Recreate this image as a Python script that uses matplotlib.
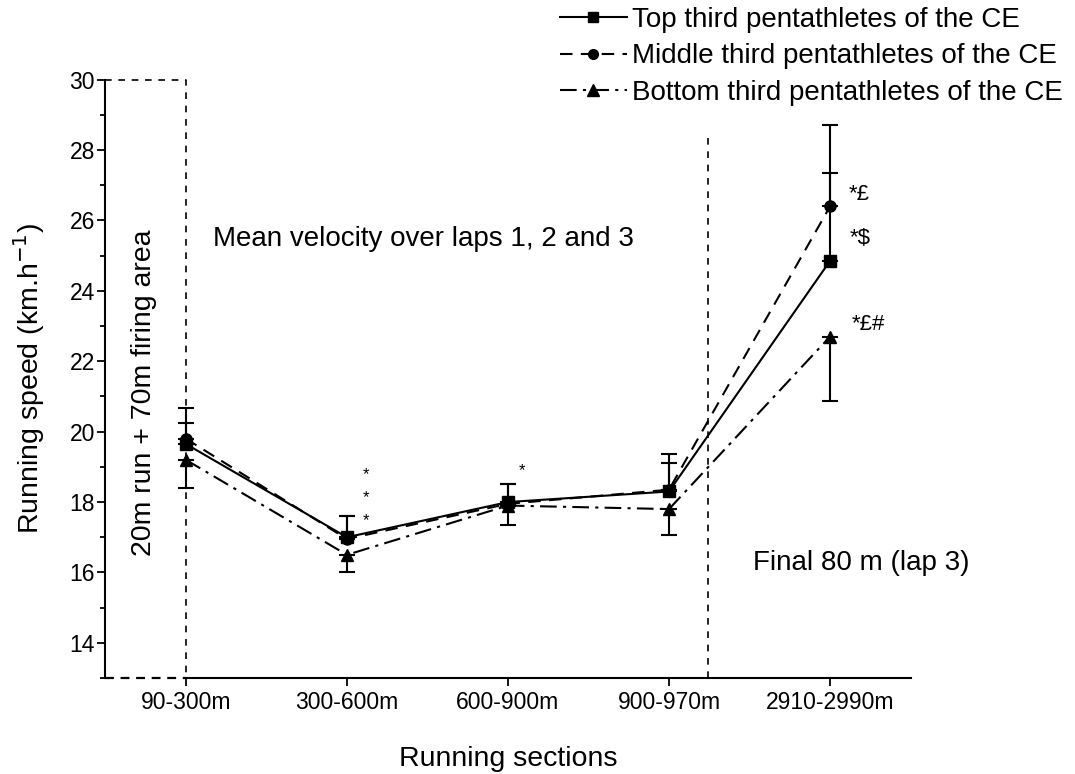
import matplotlib.pyplot as plt
from matplotlib.lines import Line2D
from matplotlib.ticker import MultipleLocator

plt.rcParams['font.family'] = ['Liberation Sans', 'DejaVu Sans']

sections = ['90-300m', '300-600m', '600-900m', '900-970m', '2910-2990m']

top_third = [19.65, 17.0, 18.0, 18.3, 24.85]
middle_third = [19.8, 16.95, 17.95, 18.35, 26.4]
bottom_third = [19.2, 16.5, 17.9, 17.8, 22.7]

# one-sided error bars as in the original (upper for top/middle, lower for bottom)
top_err_up = [0.6, 0.6, 0.5, 0.8, 2.5]
middle_err_up = [0.87, 0.65, 0.55, 1.02, 2.3]
bottom_err_down = [0.8, 0.5, 0.55, 0.73, 1.84]

labels = ['Top third pentathletes of the CE',
          'Middle third pentathletes of the CE',
          'Bottom third pentathletes of the CE']

x = list(range(len(sections)))

fig = plt.figure(figsize=(10.75, 7.74), dpi=100)
ax = fig.add_axes([0.098, 0.124, 0.749, 0.773])

dash_mid = (0, (6, 4))
dash_bot = (0, (8, 3, 1.5, 3))
zeros = [0] * len(x)
eb = dict(color='black', lw=1.5, capsize=5.5, elinewidth=1.5, capthick=1.5)
ax.errorbar(x, top_third, yerr=[zeros, top_err_up], ls='-', marker='s', ms=8, zorder=4, **eb)
ax.errorbar(x, middle_third, yerr=[zeros, middle_err_up], ls=dash_mid, marker='o', ms=8, zorder=3, **eb)
ax.errorbar(x, bottom_third, yerr=[bottom_err_down, zeros], ls=dash_bot, marker='^', ms=9, zorder=3, **eb)

ax.set_xlim(-0.5, 4.5)
ax.set_ylim(13, 30)
ax.set_xticks(x)
ax.set_xticklabels(sections)
ax.set_yticks(range(14, 31, 2))
ax.yaxis.set_minor_locator(MultipleLocator(1))
ax.tick_params(axis='both', which='major', labelsize=16.5, length=6, width=1.3)
ax.tick_params(axis='y', which='major', pad=1.5)
ax.tick_params(axis='y', which='minor', length=3.5, width=1.3)

for s in ['top', 'right']:
    ax.spines[s].set_visible(False)
ax.spines['left'].set_linewidth(1.5)
ax.spines['bottom'].set_linewidth(1.5)
ax.spines['bottom'].set_bounds(0, 4.5)

# dashed firing-area box
ax.plot([-0.5, 0, 0], [30, 30, 13], color='black', ls=(0, (4, 4)), lw=1.2, zorder=2, clip_on=False)
ax.plot([-0.5, 0], [13, 13], color='black', ls=(0, (4, 3)), lw=1.6, zorder=2, clip_on=False)
ax.axvline(3.24, ymin=0, ymax=(28.5 - 13) / 17, color='black', ls=(0, (4, 4)), lw=1.2)

ax.text(-0.26, 21.1, '20m run + 70m firing area', rotation=90, ha='center', va='center', fontsize=20.5)
ax.text(0.17, 25.47, 'Mean velocity over laps 1, 2 and 3', ha='left', va='center', fontsize=20)
ax.text(3.52, 16.28, 'Final 80 m (lap 3)', ha='left', va='center', fontsize=20)

for yy in [18.77, 18.12, 17.46]:
    ax.text(1.12, yy, '*', ha='center', va='center', fontsize=12)
ax.text(2.09, 18.9, '*', ha='center', va='center', fontsize=12)
ax.text(4.18, 26.75, '*£', ha='center', va='center', fontsize=16)
ax.text(4.19, 25.5, '*$', ha='center', va='center', fontsize=16)
ax.text(4.24, 23.05, '*£#', ha='center', va='center', fontsize=16)

ax.set_xlabel('Running sections', fontsize=20.5, labelpad=23)
ax.set_ylabel('Running speed (km.h$^{-1}$)', fontsize=20.5, labelpad=16)

handles = [Line2D([], [], color='black', lw=1.5, ls='-', marker='s', ms=7),
           Line2D([], [], color='black', lw=1.5, ls=dash_mid, marker='o', ms=7),
           Line2D([], [], color='black', lw=1.5, ls=dash_bot, marker='^', ms=8)]
fig.legend(handles, labels, loc='upper left', bbox_to_anchor=(0.521, 0.991), frameon=False,
           fontsize=20, handlelength=2.4, handletextpad=0.2, labelspacing=0.37,
           borderpad=0, borderaxespad=0)

fig.savefig('out.png', dpi=100, facecolor='white')
